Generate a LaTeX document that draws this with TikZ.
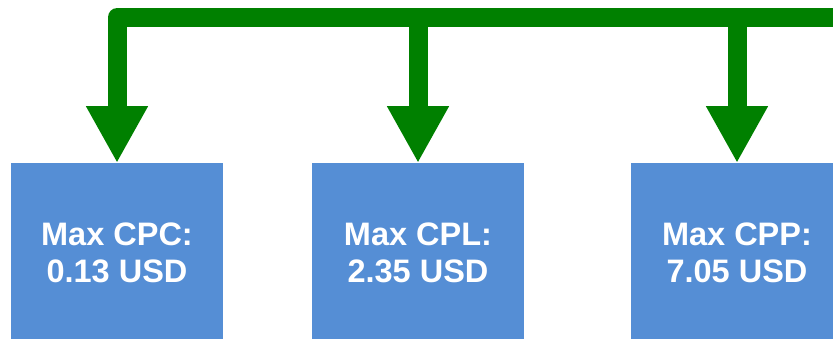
\documentclass[tikz,border=0pt]{standalone}
\usepackage{fontspec}
\setmainfont{Liberation Sans}
\usetikzlibrary{arrows.meta}
\definecolor{flowgreen}{HTML}{008000}
\definecolor{boxblue}{HTML}{558ED5}
\begin{document}
\begin{tikzpicture}[x=1pt, y=-1pt,
  costbox/.style={fill=boxblue, draw=none, minimum width=212pt, minimum height=179pt,
    inner sep=0pt, anchor=north, align=center, text=white,
    font=\fontsize{32.5pt}{37pt}\selectfont\bfseries},
  flow/.style={draw=flowgreen, line width=19pt, line join=round,
    -{Triangle[width=58pt, length=57pt]}}]
  \useasboundingbox (0,0) rectangle (833,338);
  \clip (0,0) rectangle (833,338);

  % cost boxes
  \node[costbox] (cpc) at (117,163) {Max CPC:\\0.13 USD};
  \node[costbox] (cpl) at (418,163) {Max CPL:\\2.35 USD};
  \node[costbox] (cpp) at (737,163) {Max CPP:\\7.05 USD};

  % top distribution bus
  \coordinate (busR) at (850,17.5);
  \coordinate (j2) at (cpl.north |- busR);
  \coordinate (j3) at (cpp.north |- busR);

  \draw[flow] (busR) -| (cpc.north);
  \draw[flow] (j2) -- (cpl.north);
  \draw[flow] (j3) -- (cpp.north);
\end{tikzpicture}
\end{document}
